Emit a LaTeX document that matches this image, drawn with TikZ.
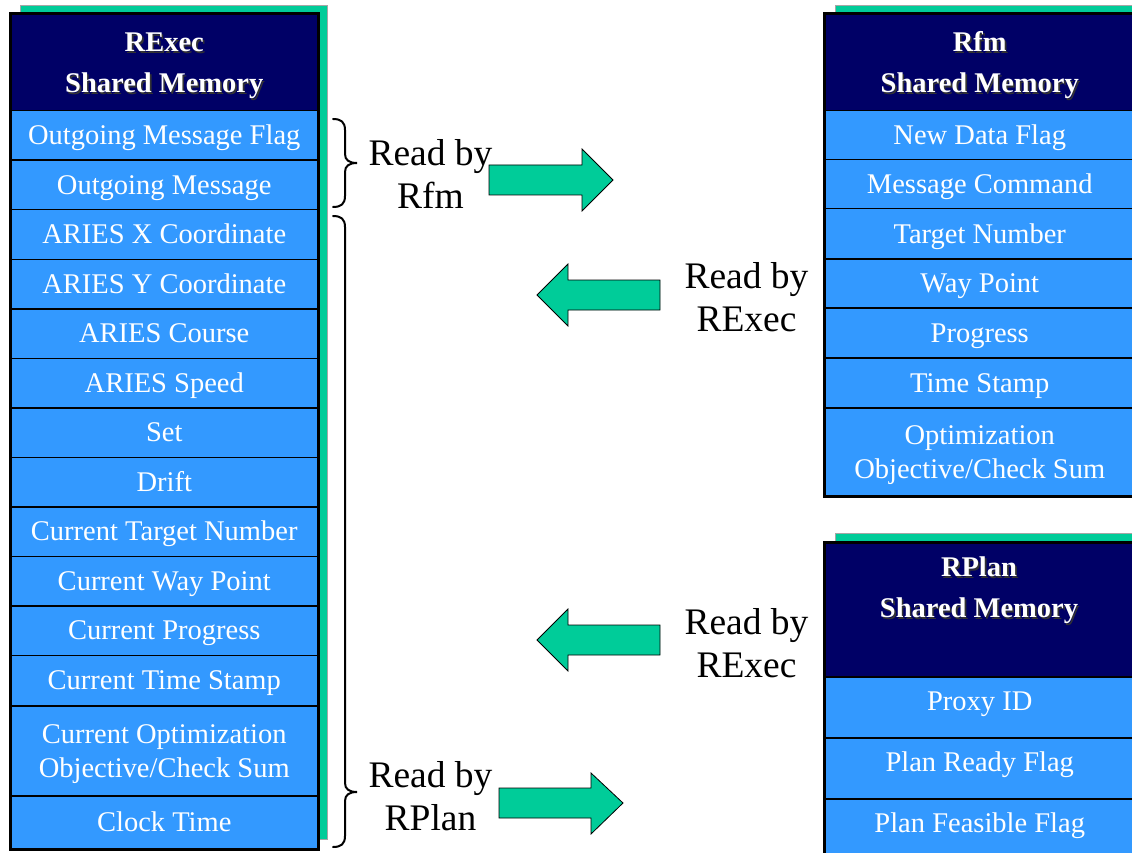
\documentclass[tikz,border=0pt]{standalone}
\usepackage{fontspec}
\setmainfont{Liberation Serif}
\definecolor{memnavy}{HTML}{000066}
\definecolor{memblue}{HTML}{3399FF}
\definecolor{memgreen}{HTML}{00CC99}
\newcommand\cellfnt{\fontsize{28.5}{34}\selectfont}
\newcommand\headfnt{\fontsize{28.5}{41}\selectfont\bfseries}
\newcommand\readfnt{\fontsize{37.5}{43}\selectfont}
\tikzset{
  cellbox/.style={draw=black, line width=1.5pt, fill=memblue, text=white, inner sep=0pt,
    anchor=north west, minimum width=#1, align=center, font=\cellfnt,
    text height=18.8pt, text depth=0pt},
  cellbox/.default=307pt,
  twoline/.style={text height=52.8pt, text depth=0pt},
  lowtext/.style={text depth=13pt},
  headbox/.style={draw=black, line width=1.5pt, fill=memnavy, inner sep=0pt,
    anchor=north west, minimum width=#1},
  headbox/.default=307pt,
  headtxt/.style={text=white, align=center, font=\headfnt, inner sep=0pt,
    text height=59.8pt, text depth=0pt},
  headshadow/.style={headtxt, text=black!80},
  shadowbox/.style={fill=memgreen, draw=black!35, line width=0.6pt},
  outline/.style={draw=black, line width=3pt},
  readlbl/.style={font=\readfnt, align=center, inner sep=0pt, text height=67.75pt, text depth=0pt},
  blockarrow/.style={fill=memgreen, draw=black, line width=0.8pt, line join=miter},
  bracestyle/.style={draw=black, line width=2pt, line cap=round}
}
\begin{document}
\begin{tikzpicture}[x=1pt,y=-1pt]
\useasboundingbox (0,0) rectangle (1132,853);
\clip (0,0) rectangle (1132,853);
\fill[white] (0,0) rectangle (1132,853);

% ---------------- RExec shared memory ----------------
\path[shadowbox] (20,5) rectangle (327,839);
\node[headbox, minimum height=96pt] (lh) at (10,14) {};
\node[headshadow] at ([shift={(1.6,1.6)}]lh.center) {RExec\\Shared Memory};
\node[headtxt] (lht) at (lh.center) {RExec\\Shared Memory};
\node[cellbox, minimum height=49.5pt] (l1) at (10,110) {Outgoing Message Flag};
\node[cellbox, minimum height=49.5pt] (l2) at (10,159.5) {Outgoing Message};
\node[cellbox, minimum height=49.5pt] (l3) at (10,209) {ARIES X Coordinate};
\node[cellbox, minimum height=49.5pt] (l4) at (10,258.5) {ARIES Y Coordinate};
\node[cellbox, minimum height=49.5pt] (l5) at (10,308) {ARIES Course};
\node[cellbox, minimum height=49.5pt] (l6) at (10,357.5) {ARIES Speed};
\node[cellbox, minimum height=49.5pt] (l7) at (10,407) {Set};
\node[cellbox, minimum height=49.5pt] (l8) at (10,456.5) {Drift};
\node[cellbox, minimum height=49.5pt] (l9) at (10,506) {Current Target Number};
\node[cellbox, minimum height=49.5pt] (l10) at (10,555.5) {Current Way Point};
\node[cellbox, minimum height=49.5pt] (l11) at (10,605) {Current Progress};
\node[cellbox, minimum height=50.5pt] (l12) at (10,654.5) {Current Time Stamp};
\node[cellbox, twoline, minimum height=90pt] (l13) at (10,705) {Current Optimization\\Objective/Check Sum};
\node[cellbox, minimum height=53pt] (l14) at (10,795) {Clock Time};
\path[outline] (lh.north west) rectangle (l14.south east);

% ---------------- Rfm shared memory ----------------
\path[shadowbox] (835,5) rectangle (1150,486);
\node[headbox=310pt, minimum height=96pt] (rh) at (824,14) {};
\node[headshadow] at ([shift={(1.6,1.6)}]rh.center) {Rfm\\Shared Memory};
\node[headtxt] (rht) at (rh.center) {Rfm\\Shared Memory};
\node[cellbox=310pt, minimum height=49pt] (r1) at (824,110) {New Data Flag};
\node[cellbox=310pt, minimum height=49pt] (r2) at (824,159) {Message Command};
\node[cellbox=310pt, minimum height=50pt] (r3) at (824,208) {Target Number};
\node[cellbox=310pt, minimum height=49pt] (r4) at (824,258) {Way Point};
\node[cellbox=310pt, minimum height=50pt] (r5) at (824,307) {Progress};
\node[cellbox=310pt, minimum height=50pt] (r6) at (824,357) {Time Stamp};
\node[cellbox=310pt, twoline, minimum height=88pt] (r7) at (824,407) {Optimization\\Objective/Check Sum};
\path[outline] (rh.north west) rectangle (r7.south east);

% ---------------- RPlan shared memory ----------------
\path[shadowbox] (835,533) rectangle (1150,900);
\node[headbox=310pt, minimum height=134pt] (ph) at (824,542) {};
\node[headshadow] at (980.6,589.6) {RPlan\\Shared Memory};
\node[headtxt] (pht) at (979,588) {RPlan\\Shared Memory};
\node[cellbox=310pt, lowtext, minimum height=61pt] (p1) at (824,676) {Proxy ID};
\node[cellbox=310pt, lowtext, minimum height=61pt] (p2) at (824,737) {Plan Ready Flag};
\node[cellbox=310pt, lowtext, minimum height=61pt] (p3) at (824,798) {Plan Feasible Flag};
\path[outline] (ph.north west) rectangle (p3.south east);

% ---------------- braces ----------------
\draw[bracestyle] (333,119) .. controls (341,119) and (345,122) .. (345,130) -- (345,154)
  .. controls (345,160) and (349,163) .. (357,163)
  .. controls (349,163) and (345,166) .. (345,172) -- (345,196)
  .. controls (345,204) and (341,207) .. (333,207);
\draw[bracestyle] (333,216) .. controls (341,216) and (345,219) .. (345,227) -- (345,783)
  .. controls (345,789) and (349,792) .. (357,792)
  .. controls (349,792) and (345,795) .. (345,801) -- (345,836)
  .. controls (345,844) and (341,847) .. (333,847);

% ---------------- labels ----------------
\node[readlbl] (t1) at (430.5,174.5) {Read by\\Rfm};
\node[readlbl] (t2) at (746.5,298) {Read by\\RExec};
\node[readlbl] (t3) at (746.5,644) {Read by\\RExec};
\node[readlbl] (t4) at (430.5,797) {Read by\\RPlan};

% ---------------- block arrows ----------------
\path[blockarrow] (489,165) -- (582,165) -- (582,149) -- (613,180) -- (582,211) -- (582,195) -- (489,195) -- cycle;
\path[blockarrow] (660,280) -- (568,280) -- (568,264) -- (537,295) -- (568,326) -- (568,310) -- (660,310) -- cycle;
\path[blockarrow] (660,625) -- (568,625) -- (568,609) -- (537,640) -- (568,671) -- (568,655) -- (660,655) -- cycle;
\path[blockarrow] (499,788) -- (591,788) -- (591,773) -- (623,803) -- (591,834) -- (591,818) -- (499,818) -- cycle;
\end{tikzpicture}
\end{document}
